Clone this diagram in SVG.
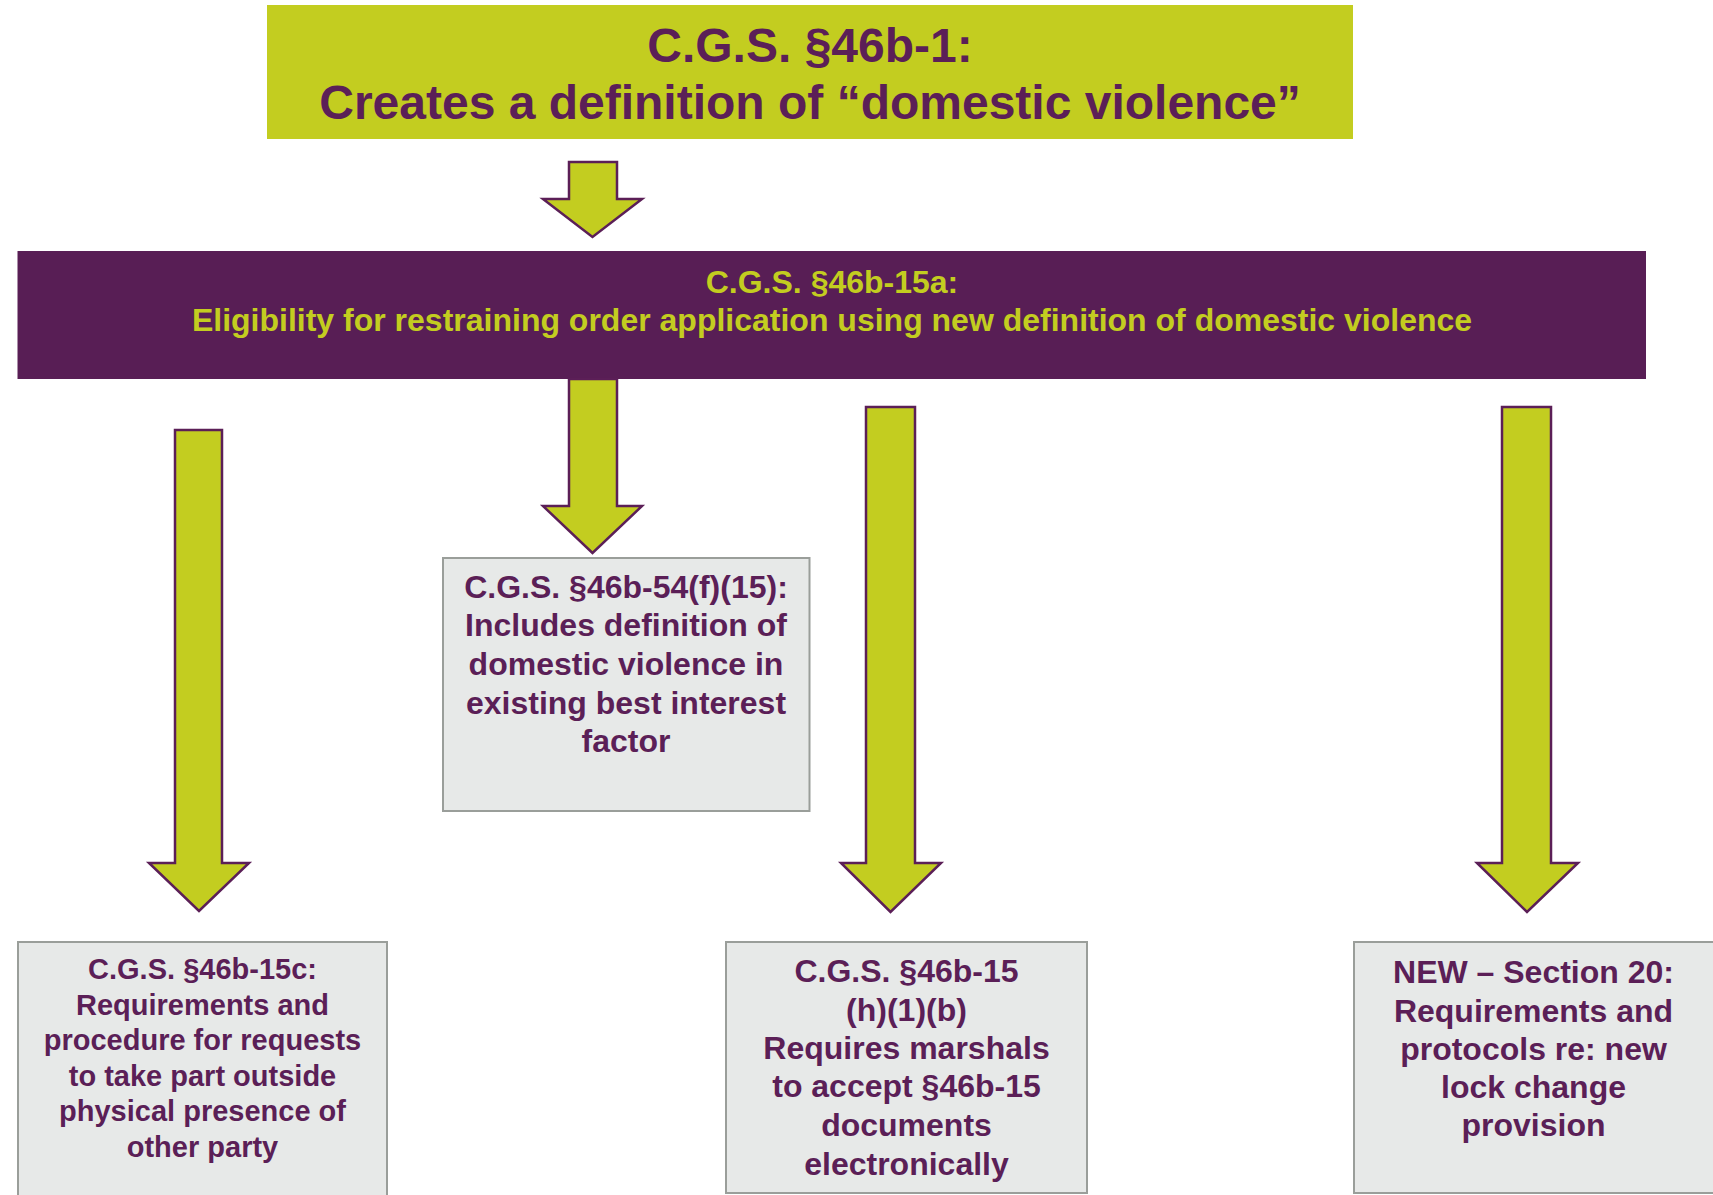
<svg xmlns="http://www.w3.org/2000/svg" width="1713" height="1195" viewBox="0 0 1713 1195">
  <style>
    text { font-family: "Liberation Sans", Arial, sans-serif; font-weight: bold; text-anchor: middle; }
    .dark { fill: #5B1F57; }
    .lime { fill: #C3CD20; }
    .f32 { font-size: 32px; }
    .f29 { font-size: 29px; }
    .box { fill: #E7E9E8; stroke: #9A9E9A; stroke-width: 2; }
    .arrow { fill: #C3CD20; stroke: #5B1F57; stroke-width: 2.5; stroke-linejoin: miter; }
  </style>
  <rect width="1713" height="1195" fill="#FFFFFF"/>

  <g id="node-46b-1">
    <rect x="267" y="5" width="1086" height="134" fill="#C3CD20"/>
    <text class="dark" x="810" y="62" font-size="48">C.G.S. §46b-1:</text>
    <text class="dark" x="810" y="119" font-size="48">Creates a definition of “domestic violence”</text>
  </g>

  <g id="node-46b-15a">
    <rect x="17.5" y="251" width="1628.5" height="128" fill="#581E55"/>
    <text class="lime f32" x="832" y="293">C.G.S. §46b-15a:</text>
    <text class="lime f32" x="832" y="331">Eligibility for restraining order application using new definition of domestic violence</text>
  </g>

  <g id="connectors">
    <polygon class="arrow" points="569,162 617,162 617,199 642,199 592.5,237 543,199 569,199"/>
    <polygon class="arrow" points="569,379 617,379 617,506 642,506 592.5,553 543,506 569,506"/>
    <polygon class="arrow" points="175,430 222,430 222,863 249,863 199,911 149,863 175,863"/>
    <polygon class="arrow" points="866,407 915,407 915,863 941,863 890.5,912 841,863 866,863"/>
    <polygon class="arrow" points="1502,407 1551,407 1551,863 1578,863 1527,912 1477,863 1502,863"/>
  </g>

  <g id="node-46b-54">
    <rect class="box" x="443" y="558" width="366.5" height="253"/>
    <text class="dark f32" x="626" y="598">C.G.S. §46b-54(f)(15):</text>
    <text class="dark f32" x="626" y="636">Includes definition of</text>
    <text class="dark f32" x="626" y="675">domestic violence in</text>
    <text class="dark f32" x="626" y="714">existing best interest</text>
    <text class="dark f32" x="626" y="752">factor</text>
  </g>

  <g id="node-46b-15c">
    <rect class="box" x="18" y="942" width="369" height="270"/>
    <text class="dark f29" x="202.5" y="979">C.G.S. §46b-15c:</text>
    <text class="dark f29" x="202.5" y="1014.6">Requirements and</text>
    <text class="dark f29" x="202.5" y="1050.2">procedure for requests</text>
    <text class="dark f29" x="202.5" y="1085.8">to take part outside</text>
    <text class="dark f29" x="202.5" y="1121.4">physical presence of</text>
    <text class="dark f29" x="202.5" y="1157">other party</text>
  </g>

  <g id="node-46b-15h">
    <rect class="box" x="726" y="942" width="361" height="251"/>
    <text class="dark f32" x="906.5" y="982">C.G.S. §46b-15</text>
    <text class="dark f32" x="906.5" y="1021">(h)(1)(b)</text>
    <text class="dark f32" x="906.5" y="1059">Requires marshals</text>
    <text class="dark f32" x="906.5" y="1097">to accept §46b-15</text>
    <text class="dark f32" x="906.5" y="1136">documents</text>
    <text class="dark f32" x="906.5" y="1175">electronically</text>
  </g>

  <g id="node-section-20">
    <rect class="box" x="1354" y="942" width="370" height="251"/>
    <text class="dark f32" x="1533.5" y="983">NEW – Section 20:</text>
    <text class="dark f32" x="1533.5" y="1022">Requirements and</text>
    <text class="dark f32" x="1533.5" y="1060">protocols re: new</text>
    <text class="dark f32" x="1533.5" y="1098">lock change</text>
    <text class="dark f32" x="1533.5" y="1136">provision</text>
  </g>
</svg>
